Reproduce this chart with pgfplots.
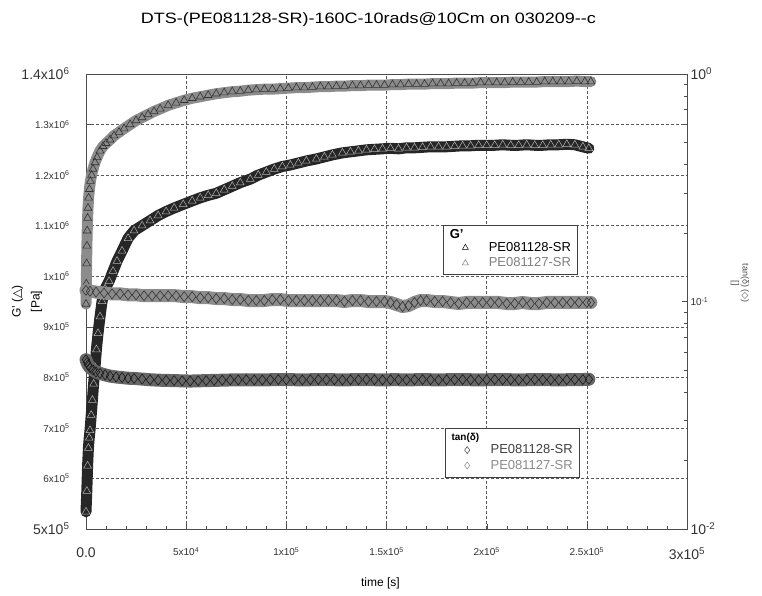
\documentclass[border=0pt]{standalone}
\usepackage{pgfplots}
\pgfplotsset{compat=1.18}
\usepackage{fontspec}
\setmainfont{Liberation Sans}
\newfontfamily\sym{DejaVu Sans}
\newcommand\lbl{\fontsize{14}{16}\selectfont}
\newcommand\slbl{\fontsize{10}{12}\selectfont}
\pgfplotsset{
 legmark/.style={legend image code/.code={\path[draw=none] (0pt,-5pt) rectangle (39pt,5pt); \draw[mark repeat=2,mark phase=2,##1] plot coordinates {(7pt,0pt) (18pt,0pt) (29pt,0pt)};}},
 legtitle/.style={legend image code/.code={\path[draw=none] (0pt,-5pt) rectangle (39pt,5pt); \node[draw=none,fill=none,anchor=west,inner sep=0pt] at (2pt,0pt) {#1};}},
}
% G' PE081127-SR (gray triangles)
\pgfplotstableread{
t g
0 945000
150 985000
300 1025000
450 1060000
600 1090000
800 1115000
1000 1135000
1300 1155000
1700 1172000
2200 1188000
2800 1200000
3500 1212000
4500 1225000
5500 1235000
7000 1248000
8500 1257000
10000 1263000
12000 1270000
14000 1278000
16500 1285000
19000 1292000
22000 1300000
25000 1308000
28000 1314000
31000 1320000
34000 1326000
37000 1331000
41000 1338000
45000 1343000
49000 1348000
53000 1352000
57000 1355000
61000 1358000
65000 1361000
69000 1363000
73000 1365000
77000 1366000
81000 1368000
85000 1369000
89000 1370000
93000 1370000
97000 1371000
101000 1372000
105000 1373000
109000 1373000
113000 1374000
117000 1375000
121000 1375000
125000 1376000
129000 1376000
133000 1377000
137000 1377000
141000 1378000
145000 1378000
149000 1378000
153000 1379000
157000 1379000
161000 1380000
165000 1380000
169000 1380000
173000 1381000
177000 1381000
181000 1381000
185000 1382000
189000 1382000
193000 1382000
197000 1383000
201000 1383000
205000 1383000
209000 1383000
213000 1384000
217000 1384000
221000 1384000
225000 1384000
229000 1385000
233000 1385000
237000 1385000
241000 1385000
245000 1386000
249000 1385000
252000 1385000
}\gGray
% G' PE081128-SR (black triangles)
\pgfplotstableread{
t g
0 534000
400 575000
800 625000
1200 660000
1600 680000
2000 695000
2600 725000
3200 755000
3800 787000
4500 820000
5200 855000
6000 887000
7000 920000
8000 950000
9500 975000
11500 990000
13500 1010000
15500 1030000
18000 1050000
21000 1075000
24000 1090000
28000 1100000
32000 1110000
36000 1120000
40000 1128000
44000 1135000
48500 1142000
53000 1149000
57000 1155000
61000 1160000
65000 1164000
69000 1171000
73000 1178000
77000 1185000
82000 1192000
86000 1200000
90000 1206000
94000 1212000
98000 1217000
102000 1220000
106000 1224000
110000 1228000
115000 1232000
119000 1236000
123000 1240000
128000 1244000
132000 1246000
136000 1248000
140000 1250000
144000 1251000
148000 1252000
152000 1253000
156000 1252000
160000 1254000
164000 1254000
168000 1255000
172000 1256000
176000 1256000
180000 1256000
184000 1257000
188000 1258000
192000 1258000
196000 1259000
200000 1259000
204000 1259000
208000 1260000
212000 1259000
216000 1259000
220000 1260000
224000 1259000
228000 1259000
232000 1260000
236000 1260000
240000 1261000
244000 1260000
248000 1256000
251000 1253000
}\gBlack
% tan delta PE081127-SR (gray diamonds)
\pgfplotstableread{
t d
0 0.112
2000 0.111
5000 0.110
9000 0.109
13000 0.108
17000 0.108
21000 0.107
25000 0.107
29000 0.106
33000 0.106
37000 0.106
41000 0.106
45000 0.106
49000 0.105
53000 0.105
57000 0.104
61000 0.104
65000 0.103
69000 0.103
73000 0.102
77000 0.102
81000 0.101
85000 0.101
89000 0.101
93000 0.102
97000 0.102
101000 0.101
105000 0.101
109000 0.101
113000 0.101
117000 0.101
121000 0.101
125000 0.101
129000 0.100
133000 0.101
137000 0.101
141000 0.100
145000 0.100
149000 0.100
152000 0.099
155000 0.097
158000 0.095
161000 0.096
164000 0.099
167000 0.101
170000 0.101
174000 0.100
178000 0.100
182000 0.099
186000 0.098
190000 0.099
194000 0.099
198000 0.099
202000 0.099
206000 0.099
210000 0.098
214000 0.098
218000 0.099
222000 0.098
226000 0.098
230000 0.099
234000 0.099
238000 0.099
242000 0.099
246000 0.099
250000 0.099
252000 0.099
}\dGray
% tan delta PE081128-SR (black diamonds)
\pgfplotstableread{
t d
0 0.0555
500 0.0540
1000 0.0527
2000 0.0512
3500 0.0500
5000 0.0490
7000 0.0483
9500 0.0476
12000 0.0470
15000 0.0466
18000 0.0463
21000 0.0460
24000 0.0459
28000 0.0456
32000 0.0453
36000 0.0451
40000 0.0450
44000 0.0449
48000 0.0448
52000 0.0447
56000 0.0448
60000 0.0449
64000 0.0450
68000 0.0451
72000 0.0452
76000 0.0452
80000 0.0453
84000 0.0452
88000 0.0452
92000 0.0453
96000 0.0454
100000 0.0453
104000 0.0453
108000 0.0452
112000 0.0453
116000 0.0454
120000 0.0453
124000 0.0453
128000 0.0452
132000 0.0453
136000 0.0453
140000 0.0454
144000 0.0453
148000 0.0452
152000 0.0453
156000 0.0453
160000 0.0452
164000 0.0453
168000 0.0454
172000 0.0453
176000 0.0452
180000 0.0453
184000 0.0453
188000 0.0454
192000 0.0453
196000 0.0452
200000 0.0453
204000 0.0454
208000 0.0453
212000 0.0453
216000 0.0452
220000 0.0453
224000 0.0454
228000 0.0453
232000 0.0453
236000 0.0452
240000 0.0453
244000 0.0454
248000 0.0454
251000 0.0455
}\dBlack
\begin{document}
\begin{tikzpicture}
\path[use as bounding box] (-86pt,-67pt) rectangle (676pt,529pt);
\begin{axis}[
  scale only axis, width=601pt, height=455pt,
  xmin=0, xmax=300000, ymin=500000, ymax=1400000,
  clip=false,
  scaled ticks=false,
  xtick={0,50000,100000,150000,200000,250000,300000},
  xticklabels={{\lbl 0.0}, 5x10\textsuperscript{4}, 1x10\textsuperscript{5}, 1.5x10\textsuperscript{5}, 2x10\textsuperscript{5}, 2.5x10\textsuperscript{5}, {\lbl 3x10\textsuperscript{5}}},
  ytick={500000,600000,700000,800000,900000,1000000,1100000,1200000,1300000,1400000},
  yticklabels={{\lbl 5x10\textsuperscript{5}}, 6x10\textsuperscript{5}, 7x10\textsuperscript{5}, 8x10\textsuperscript{5}, 9x10\textsuperscript{5}, 1x10\textsuperscript{6}, 1.1x10\textsuperscript{6}, 1.2x10\textsuperscript{6}, 1.3x10\textsuperscript{6}, {\lbl 1.4x10\textsuperscript{6}}},
  minor x tick num=4,
  xtick pos=left, ytick pos=left, tick align=inside,
  major tick length=5pt, minor tick length=3pt,
  tick style={black!70},
  axis line style={black!70},
  grid=major,
  major grid style={black!65, dash pattern=on 3pt off 2pt, line width=0.5pt},
  ticklabel style={font=\slbl, text=black!80},
  yticklabel style={xshift=-13pt},
  xticklabel style={yshift=-15pt},
  title={\scalebox{1.2}[1]{DTS-(PE081128-SR)-160C-10rads@10Cm on 030209-{}-c}},
  title style={at={(axis description cs:0.47,1.107)}, anchor=center, font=\fontsize{15}{17}\selectfont},
  xlabel={time [s]},
  every axis x label/.style={at={(axis description cs:0.49,-0.119)}, anchor=center, font=\fontsize{12}{14}\selectfont},
  ylabel={G'~({\sym △})\\{}[Pa]},
  every axis y label/.style={at={(axis description cs:-0.098,0.5)}, anchor=center, rotate=90, align=center, font=\fontsize{12}{19}\selectfont},
  legend style={at={(0.594,0.668)}, anchor=north west, draw=black!75, line width=0.8pt, font=\fontsize{13}{14}\selectfont, inner sep=4pt, nodes={inner sep=2.4pt}},
  legend cell align=left,
]
\addlegendimage{legtitle={\textbf{G'}}}
\addlegendentry{}
\addlegendimage{only marks, mark=triangle, mark size=3.5pt, black, mark options={line width=0.5pt}, legmark}
\addlegendentry{PE081128-SR}
\addlegendimage{only marks, mark=triangle, mark size=3.5pt, black!50, mark options={line width=0.5pt}, legmark}
\addlegendentry{\textcolor{black!50}{PE081127-SR}}

\addplot[forget plot, line width=11pt, black!45, line join=round, line cap=round] table[x=t,y=g] {\gGray};
\addplot[forget plot, only marks, mark=triangle, mark size=4.5pt, black!80, mark options={line width=0.6pt}] table[x=t,y=g] {\gGray};
\addplot[forget plot, line width=11pt, black!85, line join=round, line cap=round] table[x=t,y=g] {\gBlack};
\addplot[forget plot, only marks, mark=triangle, mark size=4.5pt, white!70!black, mark options={line width=0.5pt}] table[x=t,y=g] {\gBlack};
\end{axis}
\begin{axis}[
  scale only axis, width=601pt, height=455pt,
  xmin=0, xmax=300000, ymode=log, ymin=0.01, ymax=1,
  clip=false,
  axis x line=none, axis y line*=right,
  ytick={0.01,0.1,1},
  yticklabels={{\lbl 10\textsuperscript{-2}}, 10\textsuperscript{-1}, {\lbl 10\textsuperscript{0}}},
  tick align=inside, major tick length=5pt, minor tick length=3pt,
  tick style={black!70}, axis line style={black!70},
  ticklabel style={font=\slbl, text=black!80},
  ylabel={tan(δ)~({\sym ◇})\\{}[]},
  every axis y label/.style={at={(axis description cs:1.088,0.54)}, anchor=center, rotate=-90, align=center, font=\fontsize{9}{10}\selectfont, text=black!70},
  legend style={at={(0.597,0.222)}, anchor=north west, draw=black!75, line width=0.8pt, font=\fontsize{13}{14}\selectfont, inner sep=4pt, nodes={inner sep=2.4pt}},
  legend cell align=left,
]
\addlegendimage{legtitle={\fontsize{10}{12}\selectfont\textbf{tan(δ)}}}
\addlegendentry{}
\addlegendimage{only marks, mark=diamond, mark size=3.5pt, black!75, mark options={line width=0.5pt}, legmark}
\addlegendentry{\textcolor{black!75}{PE081128-SR}}
\addlegendimage{only marks, mark=diamond, mark size=3.5pt, black!45, mark options={line width=0.5pt}, legmark}
\addlegendentry{\textcolor{black!45}{PE081127-SR}}

\addplot[forget plot, line width=13pt, black!45, line join=round, line cap=round] table[x=t,y=d] {\dGray};
\addplot[forget plot, only marks, mark=diamond, mark size=5pt, black!80, mark options={line width=0.6pt}] table[x=t,y=d] {\dGray};
\addplot[forget plot, line width=13pt, black!60, line join=round, line cap=round] table[x=t,y=d] {\dBlack};
\addplot[forget plot, only marks, mark=diamond, mark size=5pt, black!90, mark options={line width=0.6pt}] table[x=t,y=d] {\dBlack};
\end{axis}
\end{tikzpicture}
\end{document}
